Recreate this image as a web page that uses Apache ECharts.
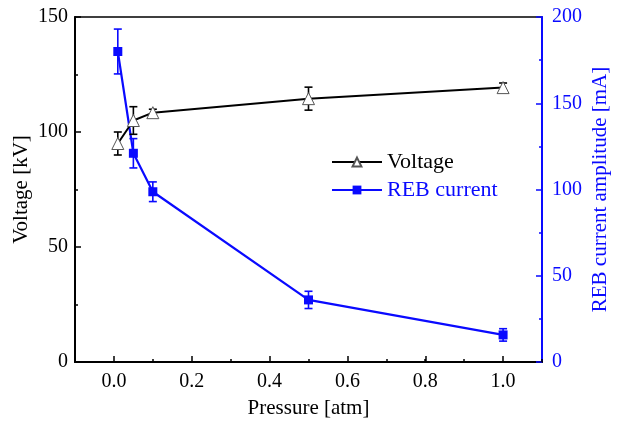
<!DOCTYPE html>
<html>
<head>
<meta charset="utf-8">
<script src="https://cdn.jsdelivr.net/npm/echarts@6/dist/echarts.min.js"></script>
<style>
  html, body { margin: 0; padding: 0; background: #fff; }
  #chart { width: 617px; height: 422px; }
</style>
</head>
<body>
<div id="chart"></div>
<script>
// pressure in atm
const pressure = [0.01, 0.05, 0.1, 0.5, 1.0]
// voltage [kV] and its error
const voltage = [95, 105, 108.4, 114.5, 119.3]
const voltageErr = [5, 6, 1.5, 5, 2]
// REB current amplitude [mA] and its error
const current = [180, 121, 98.7, 36, 15.7]
const currentErr = [13, 8.5, 5.7, 5, 3.6]

const BLUE = '#0a0aff'
const FONT = 'Liberation Serif'

function pairs(xs, ys) {
  return xs.map(function(x, i) { return [x, ys[i]] })
}

function errorData(xs, ys, es) {
  return xs.map(function(x, i) { return [x, ys[i] - es[i], ys[i] + es[i]] })
}

function errorBar(color) {
  return function(params, api) {
    const lo = api.coord([api.value(0), api.value(1)])
    const hi = api.coord([api.value(0), api.value(2)])
    const w = 4
    const style = { stroke: color, lineWidth: 1.6 }
    return {
      type: 'group',
      children: [
        { type: 'line', shape: { x1: lo[0], y1: lo[1], x2: hi[0], y2: hi[1] }, style: style },
        { type: 'line', shape: { x1: lo[0] - w, y1: lo[1], x2: lo[0] + w, y2: lo[1] }, style: style },
        { type: 'line', shape: { x1: hi[0] - w, y1: hi[1], x2: hi[0] + w, y2: hi[1] }, style: style }
      ]
    }
  }
}

const chart = echarts.init(document.getElementById('chart'))
chart.setOption({
  animation: false,
  backgroundColor: '#fff',
  grid: [
    { left: 75, right: 75, top: 17, bottom: 60, outerBoundsMode: 'none', containLabel: false, show: true, borderColor: '#000', borderWidth: 1.5, backgroundColor: 'transparent' },
    // second grid only carries the major x ticks (0.0 .. 1.0)
    { left: 113.9, right: 113.9, top: 17, bottom: 60, outerBoundsMode: 'none', containLabel: false }
  ],
  legend: {
    orient: 'vertical',
    left: 326,
    top: 146,
    itemWidth: 50,
    itemHeight: 11,
    itemGap: 6,
    textStyle: { fontFamily: FONT, fontSize: 22 },
    data: [
      { name: 'Voltage', textStyle: { color: '#000' } },
      { name: 'REB current', textStyle: { color: BLUE } }
    ]
  },
  xAxis: [
    {
      gridIndex: 0,
      type: 'value',
      min: -0.1,
      max: 1.1,
      interval: 0.1,
      name: 'Pressure [atm]',
      nameLocation: 'middle',
      nameGap: 36,
      nameTextStyle: { fontFamily: FONT, fontSize: 21, color: '#000' },
      axisLine: { onZero: false, lineStyle: { color: '#000', width: 2 } },
      axisTick: { inside: true, length: 3, lineStyle: { color: '#000', width: 1.5 } },
      axisLabel: {
        fontFamily: FONT,
        fontSize: 20,
        color: '#000',
        margin: 10,
        formatter: function(v) {
          const t = Math.round(v * 10)
          return (t >= 0 && t % 2 === 0) ? (t / 10).toFixed(1) : ''
        }
      },
      splitLine: { show: false }
    },
    {
      gridIndex: 1,
      type: 'value',
      min: 0,
      max: 1,
      interval: 0.2,
      axisLine: { show: false, onZero: false },
      axisTick: { inside: true, length: 6, lineStyle: { color: '#000', width: 1.5 } },
      axisLabel: { show: false },
      splitLine: { show: false }
    }
  ],
  yAxis: [
    {
      gridIndex: 0,
      type: 'value',
      min: 0,
      max: 150,
      interval: 50,
      name: 'Voltage [kV]',
      nameLocation: 'middle',
      nameRotate: 90,
      nameGap: 43,
      nameMoveOverlap: false,
      nameTextStyle: { fontFamily: FONT, fontSize: 21, color: '#000' },
      axisLine: { show: true, onZero: false, lineStyle: { color: '#000', width: 2 } },
      axisTick: { inside: true, length: 6, lineStyle: { color: '#000', width: 1.5 } },
      minorTick: { show: true, splitNumber: 2, length: 3, lineStyle: { color: '#000', width: 1.5 } },
      axisLabel: { fontFamily: FONT, fontSize: 20, color: '#000', margin: 7 },
      splitLine: { show: false }
    },
    {
      gridIndex: 0,
      type: 'value',
      position: 'right',
      min: 0,
      max: 200,
      interval: 50,
      name: 'REB current amplitude [mA]',
      nameLocation: 'middle',
      nameRotate: 90,
      nameGap: 48,
      nameMoveOverlap: false,
      nameTextStyle: { fontFamily: FONT, fontSize: 21, color: BLUE },
      axisLine: { show: true, onZero: false, lineStyle: { color: BLUE, width: 2 } },
      axisTick: { inside: true, length: 6, lineStyle: { color: BLUE, width: 1.5 } },
      minorTick: { show: true, splitNumber: 2, length: 3, lineStyle: { color: BLUE, width: 1.5 } },
      axisLabel: { fontFamily: FONT, fontSize: 20, color: BLUE, margin: 10 },
      splitLine: { show: false }
    },
    {
      gridIndex: 1,
      type: 'value',
      min: 0,
      max: 150,
      show: false
    }
  ],
  series: [
    {
      name: 'REB current',
      type: 'line',
      xAxisIndex: 0,
      yAxisIndex: 1,
      data: pairs(pressure, current),
      symbol: 'rect',
      symbolSize: 9,
      itemStyle: { color: BLUE },
      lineStyle: { color: BLUE, width: 2.2 },
      z: 3
    },
    {
      type: 'custom',
      xAxisIndex: 0,
      yAxisIndex: 1,
      data: errorData(pressure, current, currentErr),
      renderItem: errorBar(BLUE),
      z: 3
    },
    {
      name: 'Voltage',
      type: 'line',
      xAxisIndex: 0,
      yAxisIndex: 0,
      data: pairs(pressure, voltage),
      symbol: 'triangle',
      symbolSize: 12,
      itemStyle: { color: '#fff', borderColor: '#555', borderWidth: 1 },
      lineStyle: { color: '#000', width: 2 },
      z: 4
    },
    {
      type: 'custom',
      xAxisIndex: 0,
      yAxisIndex: 0,
      data: errorData(pressure, voltage, voltageErr),
      renderItem: errorBar('#000'),
      z: 4
    }
  ]
})
</script>
</body>
</html>
